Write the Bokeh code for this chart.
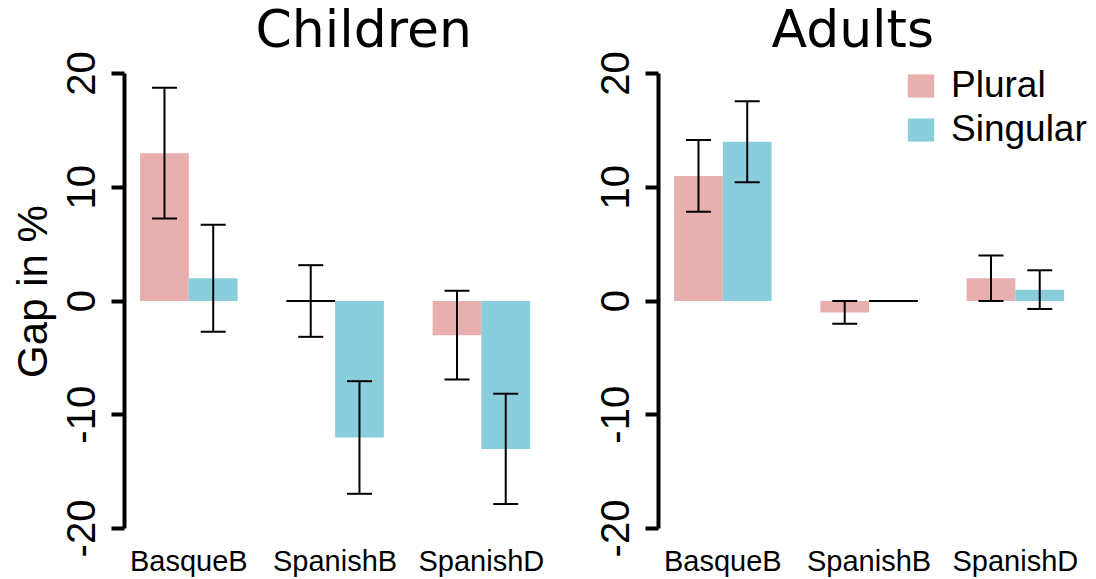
from bokeh.plotting import figure
from bokeh.models import (ColumnDataSource, Whisker, TeeHead, Legend, LegendItem,
                          FixedTicker, Title, Range1d)
from bokeh.layouts import row
from bokeh.embed import file_html
from bokeh.resources import INLINE

groups = ["BasqueB", "SpanishB", "SpanishD"]
series = ["Plural", "Singular"]
children_plural = [13, 0, -3]
children_plural_err = [5.75, 3.15, 3.9]
children_singular = [2, -12, -13]
children_singular_err = [4.7, 4.95, 4.85]
adults_plural = [11, -1, 2]
adults_plural_err = [3.15, 1.0, 2.0]
adults_singular = [14, 0, 1]
adults_singular_err = [3.55, 0.0, 1.7]
y_ticks = [-20, -10, 0, 10, 20]
colors = ["#E8AFAF", "#8ACEDE"]

SANS = "Liberation Sans"
PX_PER_X = 48.75          # pixels per bar unit
AXIS_PX = 455             # pixel length of the -20..20 axis
TOP_PAD_PX = 19           # frame space above the top tick
PX_PER_Y = AXIS_PX / (y_ticks[-1] - y_ticks[0])
X0 = 0.68


def bar_x(i, j):
    # R barplot(beside=TRUE) layout: one unit of space before each group
    return 1 + 3 * i + j + 0.5


def make_panel(title, vals, errs, ylabel, legend, border_left, border_right,
               frame_w, title_offset):
    p = figure(frame_width=frame_w, frame_height=AXIS_PX + TOP_PAD_PX,
               x_range=Range1d(X0, X0 + frame_w / PX_PER_X),
               y_range=Range1d(y_ticks[0], y_ticks[-1] + TOP_PAD_PX / PX_PER_Y),
               output_backend="svg", toolbar_location=None,
               min_border_left=border_left, min_border_right=border_right,
               min_border_top=54, min_border_bottom=51)
    p.grid.visible = False
    p.outline_line_color = None
    p.background_fill_color = "white"
    p.border_fill_color = "white"

    renderers = []
    for j, s in enumerate(series):
        xs = [bar_x(i, j) for i in range(len(groups))]
        src = ColumnDataSource(dict(x=xs, top=vals[j]))
        r = p.vbar(x="x", top="top", bottom=0, width=1.0, source=src,
                   fill_color=colors[j], line_color=None)
        renderers.append(r)
        # zero-height bars show as a black line
        zx = [x for x, v in zip(xs, vals[j]) if v == 0]
        if zx:
            p.segment(x0=[x - 0.5 for x in zx], x1=[x + 0.5 for x in zx],
                      y0=[0] * len(zx), y1=[0] * len(zx),
                      line_color="black", line_width=2)
        base, lo, up = [], [], []
        for x, v, e in zip(xs, vals[j], errs[j]):
            if e > 0:
                base.append(x)
                lo.append(v - e)
                up.append(v + e)
        wsrc = ColumnDataSource(dict(base=base, lower=lo, upper=up))
        w = Whisker(base="base", lower="lower", upper="upper", source=wsrc,
                    line_color="black", line_width=2, level="overlay",
                    lower_head=TeeHead(size=25, line_width=2, line_color="black"),
                    upper_head=TeeHead(size=25, line_width=2, line_color="black"))
        p.add_layout(w)

    ya = p.left[0]
    ya.ticker = FixedTicker(ticks=y_ticks)
    ya.bounds = (y_ticks[0], y_ticks[-1])
    ya.major_label_overrides = {t: str(t) for t in y_ticks}
    ya.axis_line_width = 4
    ya.major_tick_line_width = 4
    ya.major_tick_out = 13
    ya.major_tick_in = 0
    ya.minor_tick_line_color = None
    ya.major_label_orientation = "vertical"
    ya.major_label_text_font = SANS
    ya.major_label_text_font_size = "40px"
    ya.major_label_text_color = "black"
    ya.major_label_standoff = 17
    if ylabel:
        ya.axis_label = ylabel
        ya.axis_label_text_font = SANS
        ya.axis_label_text_font_size = "42px"
        ya.axis_label_text_font_style = "normal"
        ya.axis_label_text_color = "black"
        ya.axis_label_standoff = 8

    xa = p.below[0]
    centers = [bar_x(i, 0) + 0.5 for i in range(len(groups))]
    xa.ticker = FixedTicker(ticks=centers)
    xa.major_label_overrides = {c: g for c, g in zip(centers, groups)}
    xa.axis_line_color = None
    xa.major_tick_line_color = None
    xa.major_tick_out = 0
    xa.major_tick_in = 0
    xa.minor_tick_line_color = None
    xa.major_label_text_font = SANS
    xa.major_label_text_font_size = "29px"
    xa.major_label_text_color = "black"
    xa.major_label_standoff = 16

    p.title = Title(text=title, align="left", offset=title_offset,
                    vertical_align="bottom",
                    text_font="DejaVu Sans", text_font_size="52px",
                    text_font_style="normal", text_color="black", standoff=-9)

    if legend:
        lg = Legend(items=[LegendItem(label=s, renderers=[r]) for s, r in zip(series, renderers)],
                    location=(246, 378), padding=0, margin=0, spacing=2,
                    glyph_width=33, glyph_height=29, label_height=29,
                    label_standoff=14, label_text_font=SANS,
                    label_text_font_size="37px", label_text_color="black",
                    background_fill_alpha=0, border_line_color=None)
        p.add_layout(lg)
    return p


left = make_panel("Children", [children_plural, children_singular],
                  [children_plural_err, children_singular_err],
                  "Gap in %", False, 124, 10, 421, 131)
right = make_panel("Adults", [adults_plural, adults_singular],
                   [adults_plural_err, adults_singular_err],
                   None, True, 103, 0, 438, 113)

layout = row(left, right)
open("out.html", "w").write(file_html(layout, INLINE))
